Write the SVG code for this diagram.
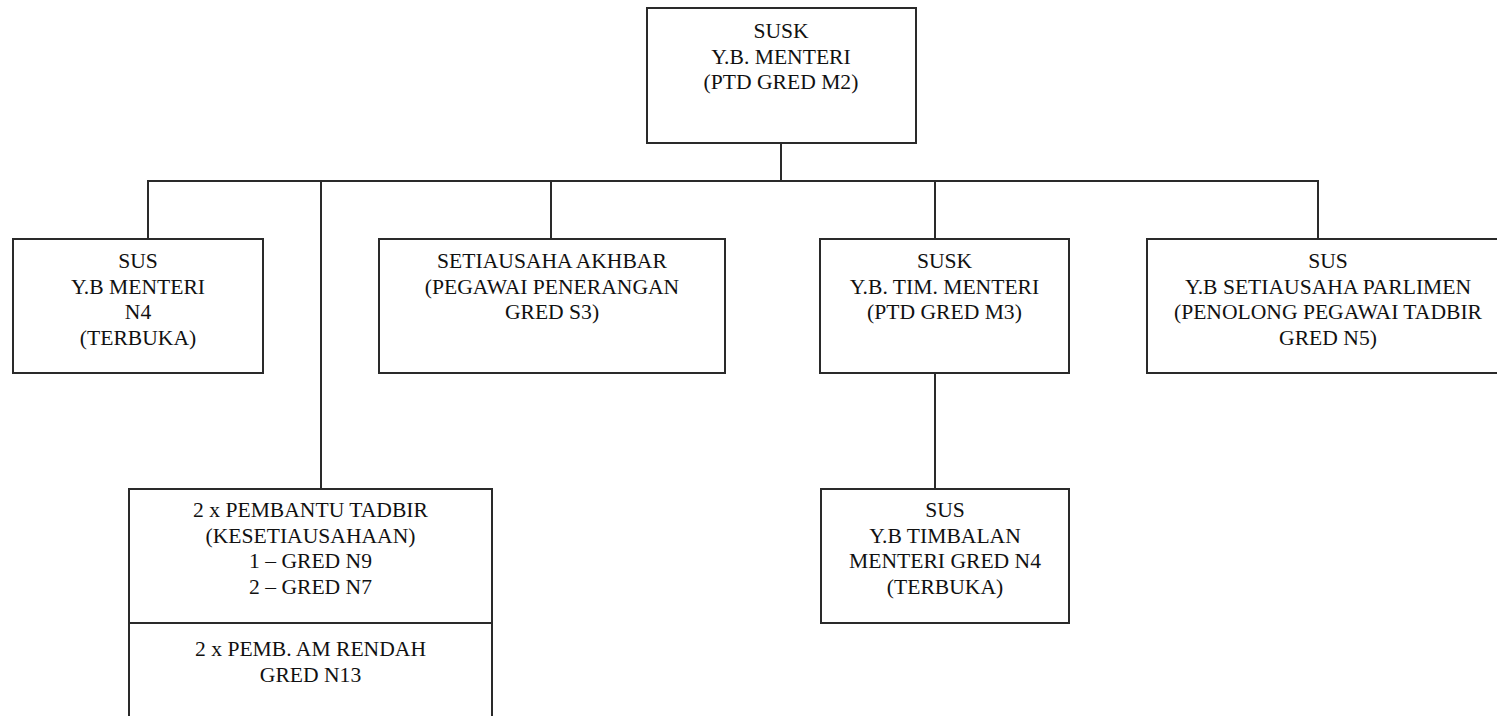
<svg xmlns="http://www.w3.org/2000/svg" width="1497" height="716" viewBox="0 0 1497 716">
<style>
.box{fill:#fff;stroke:#2a2a2a;stroke-width:2}
.ln{stroke:#2a2a2a;stroke-width:2;fill:none}
text{font-family:"Liberation Serif","Times New Roman",serif;font-size:21.6px;fill:#111;text-anchor:middle}
</style>
<rect width="1497" height="716" fill="#fff"/>
<g id="connectors">
<line class="ln" x1="781" y1="143" x2="781" y2="181"/>
<line class="ln" x1="147" y1="181" x2="1319" y2="181"/>
<line class="ln" x1="148" y1="181" x2="148" y2="239"/>
<line class="ln" x1="321" y1="181" x2="321" y2="489"/>
<line class="ln" x1="551" y1="181" x2="551" y2="239"/>
<line class="ln" x1="935" y1="181" x2="935" y2="239"/>
<line class="ln" x1="1318" y1="181" x2="1318" y2="239"/>
<line class="ln" x1="935" y1="373" x2="935" y2="489"/>
</g>
<g id="n-top">
<rect class="box" x="647" y="8" width="269" height="135"/>
<text x="781" y="38">SUSK</text>
<text x="781" y="63.5">Y.B. MENTERI</text>
<text x="781" y="89">(PTD GRED M2)</text>
</g>
<g id="n-sus-menteri">
<rect class="box" x="13" y="239" width="250" height="134"/>
<text x="138" y="268">SUS</text>
<text x="138" y="293.5">Y.B MENTERI</text>
<text x="138" y="319">N4</text>
<text x="138" y="344.5">(TERBUKA)</text>
</g>
<g id="n-akhbar">
<rect class="box" x="379" y="239" width="346" height="134"/>
<text x="552" y="268">SETIAUSAHA AKHBAR</text>
<text x="552" y="293.5">(PEGAWAI PENERANGAN</text>
<text x="552" y="319">GRED S3)</text>
</g>
<g id="n-susk-tim">
<rect class="box" x="820" y="239" width="249" height="134"/>
<text x="944.5" y="268">SUSK</text>
<text x="944.5" y="293.5">Y.B. TIM. MENTERI</text>
<text x="944.5" y="319">(PTD GRED M3)</text>
</g>
<g id="n-sus-parlimen">
<rect class="box" x="1147" y="239" width="362" height="134"/>
<text x="1328" y="268">SUS</text>
<text x="1328" y="293.5">Y.B SETIAUSAHA PARLIMEN</text>
<text x="1328" y="319">(PENOLONG PEGAWAI TADBIR</text>
<text x="1328" y="344.5">GRED N5)</text>
</g>
<g id="n-pembantu">
<rect class="box" x="129" y="489" width="363" height="240"/>
<line class="ln" x1="129" y1="623" x2="492" y2="623"/>
<text x="310.5" y="517">2 x PEMBANTU TADBIR</text>
<text x="310.5" y="542.5">(KESETIAUSAHAAN)</text>
<text x="310.5" y="568">1 – GRED N9</text>
<text x="310.5" y="593.5">2 – GRED N7</text>
<text x="310.5" y="656">2 x PEMB. AM RENDAH</text>
<text x="310.5" y="682">GRED N13</text>
</g>
<g id="n-sus-timbalan">
<rect class="box" x="821" y="489" width="248" height="134"/>
<text x="945" y="517">SUS</text>
<text x="945" y="542.5">Y.B TIMBALAN</text>
<text x="945" y="568">MENTERI GRED N4</text>
<text x="945" y="593.5">(TERBUKA)</text>
</g>
</svg>
